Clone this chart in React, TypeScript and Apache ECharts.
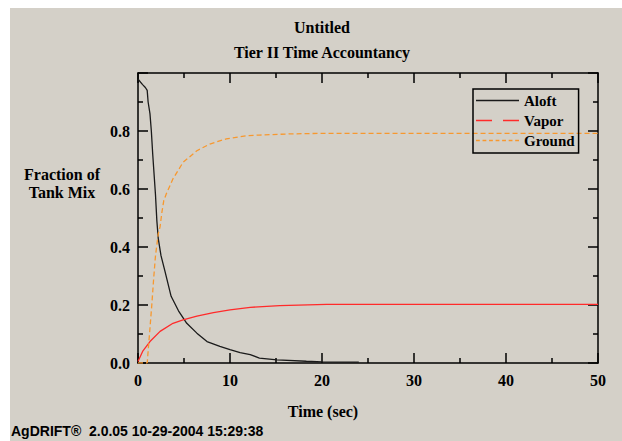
import React, { useEffect, useRef } from "react";
import * as echarts from "echarts";

const aloftTime = [0, 0.1, 0.5, 0.8, 1.0, 1.1, 1.3, 1.45, 1.6, 1.75, 1.9, 2.05, 2.2, 2.5, 2.9, 3.6, 4.4, 5.3, 6.4, 7.5, 8.9, 10, 11.1, 12.2, 13.2, 15.1, 18.3, 20, 24];
const aloftValues = [0.98, 0.975, 0.96, 0.95, 0.94, 0.9, 0.86, 0.8, 0.72, 0.65, 0.58, 0.49, 0.43, 0.37, 0.32, 0.23, 0.18, 0.137, 0.103, 0.074, 0.057, 0.046, 0.036, 0.029, 0.017, 0.011, 0.006, 0.004, 0.003];

const vaporTime = [0, 0.5, 1.3, 2.4, 3.8, 4.9, 6.4, 8.2, 10, 12.2, 15.4, 20.5, 30, 40, 50];
const vaporValues = [0.005, 0.04, 0.074, 0.109, 0.137, 0.149, 0.162, 0.174, 0.183, 0.192, 0.198, 0.202, 0.202, 0.202, 0.202];

const groundTime = [0, 1.0, 1.1, 1.3, 1.5, 1.7, 1.9, 2.2, 2.4, 2.6, 2.8, 3.1, 3.8, 4.9, 6.4, 7.8, 9.6, 11.8, 13.2, 16.5, 20, 30, 40, 50];
const groundValues = [0, 0, 0.04, 0.12, 0.2, 0.29, 0.37, 0.445, 0.47, 0.52, 0.56, 0.585, 0.635, 0.692, 0.732, 0.755, 0.773, 0.784, 0.786, 0.79, 0.792, 0.792, 0.792, 0.792];

const seriesNames = ["Aloft", "Vapor", "Ground"];
const titleLines = ["Untitled", "Tier II Time Accountancy"];
const xAxisTitle = "Time (sec)";
const yAxisTitle = "Fraction of\nTank Mix";
const footerText = "AgDRIFT\u00AE  2.0.05 10-29-2004 15:29:38";

const SERIF = "'Liberation Serif', 'Times New Roman', serif";
const SANS = "'Liberation Sans', Arial, sans-serif";

const pairs = (t: number[], v: number[]) => t.map((x, i) => [x, v[i]]);

// legend icons: solid, long-dash, short-dash line shapes
const iconSolid = "path://M0,0h43v1.4h-43z";
const iconLongDash = "path://M0,0h16v1.4h-16z M27,0h16v1.4h-16z";
const iconShortDash = (() => {
  let d = "path://";
  for (let x = 0; x < 43; x += 6.2) d += `M${x.toFixed(1)},0h3.6v1.4h-3.6z `;
  return d.trim();
})();

export default function App() {
  const ref = useRef<HTMLDivElement>(null);
  useEffect(() => {
    document.body.style.margin = "0";
    document.body.style.overflow = "hidden";
    const chart = echarts.init(ref.current!, null, { renderer: "svg" });
    const axisLine = { show: true, onZero: false, lineStyle: { color: "#000", width: 1.5 } };
    const tick = { show: true, inside: true, length: 10, lineStyle: { color: "#000", width: 1.5 } };
    const minor = { show: true, splitNumber: 2, length: 5, lineStyle: { color: "#000", width: 1.5 } };
    const label = { color: "#000", fontFamily: SERIF, fontWeight: "bold", fontSize: 16 };
    const xBase = {
      type: "value", min: 0, max: 50, interval: 10,
      axisLine, axisTick: tick, minorTick: minor,
      splitLine: { show: false }, minorSplitLine: { show: false },
    };
    const yBase = {
      type: "value", min: 0, max: 1, interval: 0.2,
      axisLine, axisTick: tick, minorTick: minor,
      splitLine: { show: false }, minorSplitLine: { show: false },
    };
    const font = (size: number, fam: string) => `bold ${size}px ${fam}`;
    chart.setOption({
      animation: false,
      backgroundColor: "#d4d0c8",
      grid: { left: 128, top: 65, width: 460, height: 290, containLabel: false },
      xAxis: [
        { ...xBase, position: "bottom", axisLabel: { ...label, margin: 9 } },
        { ...xBase, position: "top", axisLabel: { show: false } },
      ],
      yAxis: [
        { ...yBase, position: "left", axisLabel: { ...label, margin: 8, showMaxLabel: false, formatter: (v: number) => v.toFixed(1) } },
        { ...yBase, position: "right", axisLabel: { show: false } },
      ],
      legend: {
        orient: "vertical",
        left: 463,
        top: 81,
        borderColor: "#000",
        borderWidth: 1.5,
        borderRadius: 0,
        padding: [3, 4, 4, 3],
        itemWidth: 43,
        itemHeight: 14,
        itemGap: 3,
        symbolKeepAspect: true,
        textStyle: { ...label, fontSize: 15, lineHeight: 17 },
        data: [
          { name: seriesNames[0], icon: iconSolid },
          { name: seriesNames[1], icon: iconLongDash },
          { name: seriesNames[2], icon: iconShortDash },
        ],
      },
      graphic: [
        { type: "text", x: 312, y: 19, style: { text: titleLines[0], font: font(16, SERIF), fill: "#000", align: "center", verticalAlign: "middle" } },
        { type: "text", x: 312, y: 44, style: { text: titleLines[1], font: font(16, SERIF), fill: "#000", align: "center", verticalAlign: "middle" } },
        { type: "text", x: 52, y: 175, style: { text: yAxisTitle, font: font(16, SERIF), lineHeight: 18, fill: "#000", align: "center", verticalAlign: "middle" } },
        { type: "text", x: 313, y: 403, style: { text: xAxisTitle, font: font(16, SERIF), fill: "#000", align: "center", verticalAlign: "middle" } },
        { type: "text", x: 1, y: 423, style: { text: footerText, font: font(14, SANS), fill: "#000", align: "left", verticalAlign: "middle" } },
      ],
      series: [
        { name: seriesNames[0], type: "line", symbol: "none", data: pairs(aloftTime, aloftValues), lineStyle: { color: "#1a1a1a", width: 1.3 }, itemStyle: { color: "#1a1a1a" } },
        { name: seriesNames[1], type: "line", symbol: "none", data: pairs(vaporTime, vaporValues), lineStyle: { color: "#ff2a2a", width: 1.3 }, itemStyle: { color: "#ff2a2a" } },
        { name: seriesNames[2], type: "line", symbol: "none", data: pairs(groundTime, groundValues), lineStyle: { color: "#f7982f", width: 1.3, type: [5, 3] }, itemStyle: { color: "#f7982f" } },
      ],
    });
    return () => chart.dispose();
  }, []);
  return (
    <div style={{ position: "relative", width: 622, height: 441, background: "#fff", overflow: "hidden" }}>
      <div ref={ref} style={{ position: "absolute", left: 10, top: 8, width: 612, height: 433 }} />
    </div>
  );
}
